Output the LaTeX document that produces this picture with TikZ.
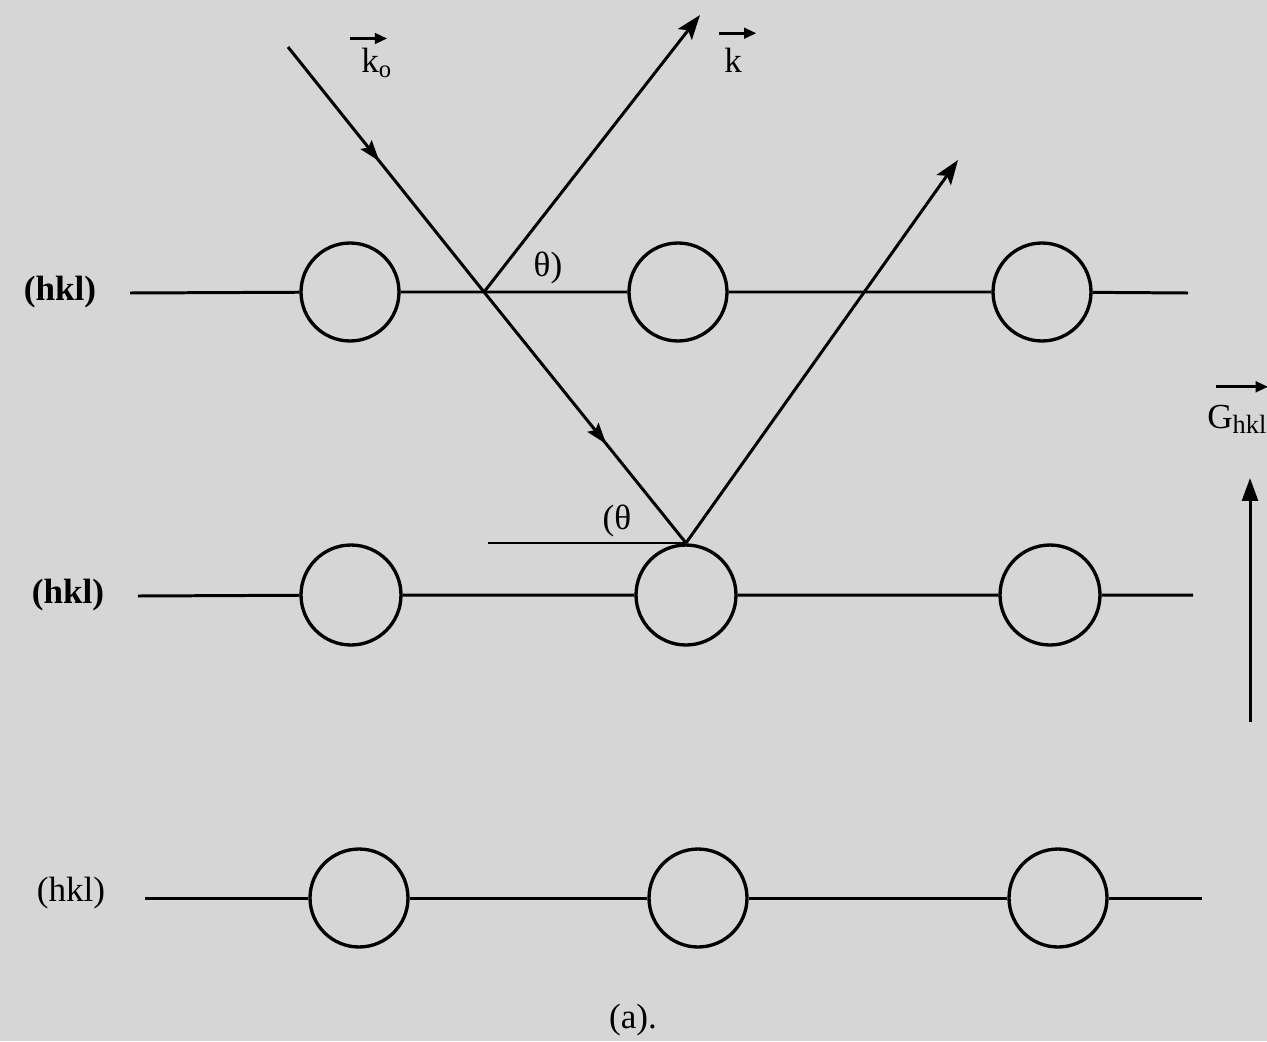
\documentclass[tikz,border=0pt]{standalone}
\usepackage{fontspec}
\setmainfont{Liberation Serif}
\usetikzlibrary{arrows.meta,decorations.markings}
\definecolor{bgc}{RGB}{214,214,214}
\begin{document}
\begin{tikzpicture}[x=0.02cm,y=-0.02cm,
  atom/.style={circle,draw,line width=1.9pt,minimum size=1.96cm,inner sep=0pt},
  atomb/.style={atom,minimum size=2cm},
  lattice/.style={line width=1.7pt},
  lbl/.style={font=\fontsize{20}{24}\selectfont,inner sep=0pt},
  ray/.style={line width=1.7pt},
  tip/.style={-{Stealth[length=14pt,width=10pt,inset=3pt]}},
  smalltip/.style={-{Triangle[length=7pt,width=6pt]}}]
\useasboundingbox (0,0) rectangle (1267,1041);
\fill[bgc] (0,0) rectangle (1267,1041);
\clip (0,0) rectangle (1267,1041);

% row labels
\node[lbl] (h1) at (60,292) {\bfseries (hkl)};
\node[lbl] (h2) at (68,595) {\bfseries (hkl)};
\node[lbl] (h3) at (71,893) {(hkl)};

% atoms
\node[atom]  (c11) at (350,292) {};
\node[atom]  (c12) at (678,292) {};
\node[atom]  (c13) at (1042,292) {};
\node[atomb] (c21) at (351,595) {};
\node[atomb] (c22) at (686,595) {};
\node[atomb] (c23) at (1050,595) {};
\node[atom]  (c31) at (359,898) {};
\node[atom]  (c32) at (698,898) {};
\node[atom]  (c33) at (1058,898) {};

% lattice lines
\coordinate (a1) at (130,293);
\coordinate (b1) at (1188,293);
\coordinate (a2) at (138,596);
\coordinate (b2) at (1193,595);
\coordinate (a3) at (145,898);
\coordinate (b3) at (1202,898);
\draw[lattice] (a1) -- (c11) -- (c12) -- (c13) -- (b1);
\draw[lattice] (a2) -- (c21) -- (c22) -- (c23) -- (b2);
\draw[lattice] (a3) -- (c31) -- (c32) -- (c33) -- (b3);

% rays
\coordinate (S)  at (288,47);
\coordinate (P1) at (484,292);
\coordinate (P2) at (686,543);
\coordinate (R1) at (700,15);
\coordinate (R2) at (958,160);
\coordinate (H)  at (488,543);
\draw[ray,postaction={decorate},decoration={markings,
   mark=at position 0.23 with {\arrow{Stealth[length=12pt,width=8pt,inset=2pt]}},
   mark=at position 0.80 with {\arrow{Stealth[length=12pt,width=8pt,inset=2pt]}}}]
   (S) -- (P1) -- (P2);
\draw[ray,tip] (P1) -- (R1);
\draw[ray,tip] (P2) -- (R2);
\draw[line width=1.4pt] (H) -- (P2);

% angle labels
\node[lbl] (t1) at (548,268) {θ)};
\node[lbl] (t2) at (617,521) {(θ};

% wave vectors
\node[lbl,anchor=base west] (ko) at (361,72) {k\textsubscript{o}};
\draw[line width=1.6pt,smalltip] ([xshift=-6pt,yshift=5pt]ko.north west) -- ([xshift=-3pt,yshift=5pt]ko.north east);
\node[lbl,anchor=base west] (k) at (724,72) {k};
\draw[line width=1.6pt,smalltip] ([xshift=-3pt,yshift=8pt]k.north west) -- ([xshift=8pt,yshift=8pt]k.north east);

% reciprocal lattice vector
\node[lbl,anchor=base west] (G) at (1207,428) {G\raisebox{-3pt}{\fontsize{15}{16}\selectfont hkl}};
\coordinate (Gs) at ([xshift=5pt,yshift=10pt]G.north west);
\coordinate (GE) at (1268,385);
\draw[line width=1.6pt,smalltip] (Gs) -- (Gs -| GE);
\coordinate (G0) at (1250,722);
\coordinate (G1) at (1250,478);
\draw[ray,-{Triangle[length=13pt,width=9pt]}] (G0) -- (G1);

% caption
\node[lbl] (cap) at (633,1020) {(a).};
\end{tikzpicture}
\end{document}
